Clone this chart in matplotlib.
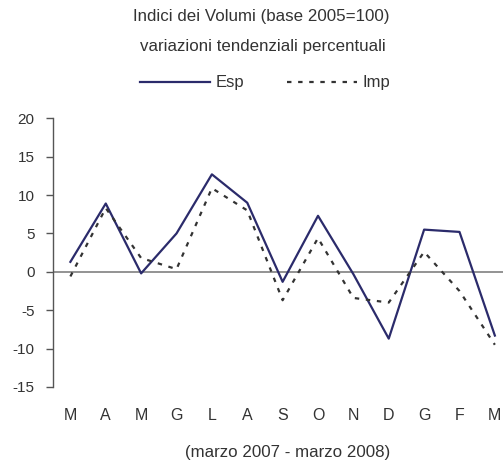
import matplotlib
matplotlib.use("Agg")
import matplotlib.pyplot as plt

plt.rcParams['font.family'] = ['Liberation Sans', 'DejaVu Sans']

months = ["M", "A", "M", "G", "L", "A", "S", "O", "N", "D", "G", "F", "M"]
esp = [1.3, 8.9, -0.2, 5.0, 12.7, 9.0, -1.3, 7.3, -0.3, -8.7, 5.5, 5.2, -8.3]
imp = [-0.6, 8.3, 1.8, 0.35, 10.9, 8.0, -3.7, 4.4, -3.4, -4.0, 2.6, -2.5, -9.5]
yticks = [-15, -10, -5, 0, 5, 10, 15, 20]

W, H = 503, 461
fig = plt.figure(figsize=(W / 100, H / 100), dpi=100)
left = 52.7 / W
top = 118.3 / H
bottom = 387 / H
ax = fig.add_axes([left, 1 - bottom, 1 - left, bottom - top])

x = list(range(len(months)))
ax.plot(x, esp, color="#2b2b6b", lw=1.6, label="Esp")
ax.plot(x, imp, color="#333333", lw=1.6, linestyle=(0, (2, 3)), label="Imp")
ax.axhline(0, color="#808080", lw=1.2, zorder=0)

ax.set_ylim(-15, 20)
ax.set_xlim(-0.5, 12.23)
ax.set_yticks(yticks)
ax.set_yticklabels([str(v) for v in yticks], fontsize=11, color="#333333")
ax.set_xticks(x)
ax.set_xticklabels(months, fontsize=11.5, color="#333333")
ax.tick_params(axis="x", length=0, pad=15)
ax.tick_params(axis="y", length=5, width=1, color="#555555", pad=8)
for s in ["top", "right", "bottom"]:
    ax.spines[s].set_visible(False)
ax.spines["left"].set_color("#555555")
ax.spines["left"].set_linewidth(1)

fig.text(261 / W, 1 - 17 / H, "Indici dei Volumi (base 2005=100)", ha="center", va="center",
         fontsize=12.2, color="#333333")
fig.text(263 / W, 1 - 47 / H, "variazioni tendenziali percentuali", ha="center", va="center",
         fontsize=12.2, color="#333333")
fig.text(288 / W, 1 - 452 / H, "(marzo 2007 - marzo 2008)", ha="center", va="center",
         fontsize=12.2, color="#333333")

ax.legend(loc="center", bbox_to_anchor=(265 / W, 1 - 83 / H), bbox_transform=fig.transFigure,
          ncol=2, frameon=False, fontsize=12, handlelength=4.2, handletextpad=0.3,
          columnspacing=2.6, labelcolor="#333333")

fig.savefig("out.png", dpi=100)
